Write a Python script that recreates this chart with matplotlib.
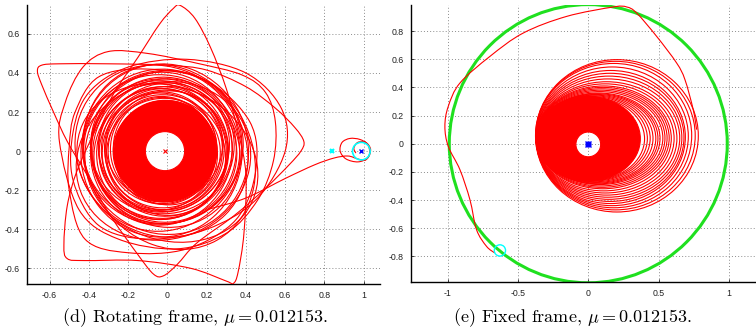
import numpy as np
import matplotlib
matplotlib.use("Agg")
import matplotlib.pyplot as plt
from matplotlib.path import Path
from matplotlib.patches import PathPatch, Ellipse, Circle
from matplotlib.transforms import Affine2D

# ---------------- data ----------------
MU = 0.012153
earth_rot = (-MU, 0.0)
moon_rot = (1 - MU, 0.0)
l1_rot = (0.837, 0.0)

# Rotating frame: dense inner spiral band (inner / outer radius)
rot_band = (0.10, 0.26)
# Rotating frame: individual spiral revolutions (ellipses)
rot_ring_rx = [0.25, 0.26, 0.265, 0.27, 0.28, 0.285, 0.29, 0.30, 0.305, 0.31, 0.315, 0.32, 0.33, 0.335,
               0.34, 0.345, 0.35, 0.36, 0.365, 0.37, 0.38, 0.385, 0.39, 0.40, 0.41, 0.42, 0.43, 0.44]
rot_ring_ry = [0.24, 0.245, 0.255, 0.26, 0.26, 0.275, 0.28, 0.28, 0.29, 0.30, 0.30, 0.31, 0.31, 0.32,
               0.33, 0.33, 0.34, 0.34, 0.35, 0.35, 0.36, 0.37, 0.37, 0.38, 0.39, 0.39, 0.41, 0.42]
rot_ring_cx = [-0.01, -0.02, -0.01, -0.03, -0.01, -0.03, -0.02, -0.01, -0.04, -0.02, -0.01, -0.03, -0.02, -0.01,
               -0.03, -0.02, -0.04, -0.03, -0.01, -0.02, -0.03, -0.02, -0.01, -0.03, -0.02, -0.02, -0.03, -0.01]
rot_ring_cy = [0.00, 0.01, -0.01, 0.01, 0.00, 0.02, -0.01, 0.02, 0.00, 0.01, -0.02, 0.01, 0.00, 0.02,
               -0.01, 0.01, 0.00, 0.02, -0.02, 0.01, 0.00, 0.02, -0.01, 0.01, 0.02, 0.00, -0.01, 0.01]
rot_ring_ang = [0, 30, 60, 90, 120, 150, 10, 40, 70, 100, 130, 160, 20, 50,
                80, 110, 140, 170, 15, 45, 75, 105, 135, 165, 25, 55, 85, 115]

# Rotating frame: wider, eccentric revolutions
rot_wide_cx = [-0.02, 0.00, -0.03, 0.01]
rot_wide_cy = [-0.05, -0.06, 0.00, -0.03]
rot_wide_w = [0.90, 0.95, 0.84, 0.98]
rot_wide_h = [0.80, 0.78, 0.92, 0.84]
rot_wide_ang = [20, -25, 45, -60]

# Rotating frame: outer star-shaped revolutions (waypoints)
rot_loop_a = [(0.065, 0.746), (0.14, 0.68), (0.22, 0.53), (0.30, 0.32), (0.36, 0.10), (0.40, -0.12),
              (0.39, -0.42), (0.36, -0.62), (0.336, -0.677), (0.30, -0.665), (0.12, -0.60),
              (-0.15, -0.56), (-0.42, -0.56), (-0.51, -0.55), (-0.527, -0.48), (-0.51, -0.28),
              (-0.46, -0.10), (-0.37, 0.10), (-0.27, 0.30), (-0.15, 0.48), (-0.04, 0.65), (0.03, 0.73)]
rot_loop_b = [(-0.662, 0.41), (-0.64, 0.44), (-0.55, 0.447), (-0.30, 0.447), (0.00, 0.44), (0.20, 0.415),
              (0.40, 0.33), (0.55, 0.22), (0.65, 0.12), (0.695, 0.05), (0.68, 0.00), (0.62, -0.07),
              (0.50, -0.19), (0.34, -0.33), (0.15, -0.47), (0.05, -0.58), (-0.02, -0.638),
              (-0.07, -0.63), (-0.15, -0.53), (-0.29, -0.33), (-0.41, -0.12), (-0.51, 0.05),
              (-0.58, 0.20), (-0.64, 0.34)]
rot_loop_c = [(-0.55, 0.05), (-0.52, 0.25), (-0.43, 0.43), (-0.30, 0.51), (-0.10, 0.50), (0.15, 0.45),
              (0.38, 0.39), (0.50, 0.30), (0.55, 0.15), (0.54, -0.05), (0.46, -0.25), (0.30, -0.42),
              (0.05, -0.50), (-0.25, -0.45), (-0.45, -0.30)]
rot_loop_d = [(-0.47, 0.20), (-0.35, 0.38), (-0.10, 0.42), (0.20, 0.36), (0.42, 0.15), (0.45, -0.10),
              (0.35, -0.35), (0.10, -0.50), (-0.20, -0.52), (-0.42, -0.45), (-0.50, -0.20), (-0.50, 0.02)]
rot_loop_e = [(-0.40, 0.30), (-0.20, 0.43), (0.10, 0.47), (0.40, 0.40), (0.58, 0.22), (0.60, 0.00),
              (0.45, -0.25), (0.20, -0.40), (-0.10, -0.45), (-0.35, -0.38), (-0.48, -0.15), (-0.48, 0.10)]
rot_transfer = [(0.20, -0.30), (0.40, -0.24), (0.60, -0.14), (0.75, -0.07), (0.85, -0.035), (0.92, -0.025),
                (0.97, -0.04), (1.01, -0.045), (1.03, -0.01), (1.02, 0.035), (0.98, 0.06), (0.93, 0.065),
                (0.89, 0.045), (0.88, 0.00), (0.91, -0.04), (0.97, -0.055), (1.02, -0.035), (1.035, 0.01),
                (1.01, 0.045), (0.97, 0.045), (0.95, 0.015), (0.96, -0.01)]

# Fixed frame
moon_orbit_r = 1 - MU
earth_fix = (0.0, 0.0)
moon_fix = (-0.628, -0.758)
fix_band_outer = (0.0, 0.035, 0.74, 0.60)    # centre x, centre y, width, height
fix_band_hole = (0.0, -0.005, 0.088)          # centre x, centre y, radius
fix_ring_left = [-0.375, -0.374, -0.373, -0.372, -0.372, -0.371, -0.371, -0.370, -0.370, -0.369, -0.369,
                 -0.368, -0.368, -0.368, -0.367, -0.367, -0.367, -0.366, -0.366, -0.366, -0.365, -0.365]
fix_ring_right = [0.782, 0.760, 0.735, 0.711, 0.690, 0.680, 0.665, 0.650, 0.630, 0.610, 0.590,
                  0.575, 0.560, 0.545, 0.530, 0.510, 0.495, 0.480, 0.460, 0.440, 0.420, 0.400]
fix_ring_top = [0.597, 0.585, 0.570, 0.545, 0.520, 0.500, 0.480, 0.460, 0.440, 0.425, 0.410,
                0.400, 0.390, 0.380, 0.370, 0.360, 0.355, 0.350, 0.345, 0.340, 0.335, 0.330]
fix_ring_bottom = [-0.485, -0.470, -0.455, -0.440, -0.425, -0.410, -0.395, -0.380, -0.365, -0.350, -0.335,
                   -0.320, -0.310, -0.300, -0.290, -0.285, -0.280, -0.275, -0.270, -0.265, -0.262, -0.260]
fix_transfer = [(0.77, 0.10), (0.746, 0.241), (0.687, 0.455), (0.628, 0.573), (0.486, 0.762), (0.344, 0.928),
                (0.273, 0.971), (0.178, 0.971), (-0.154, 0.904), (-0.462, 0.786), (-0.699, 0.620),
                (-0.912, 0.431), (-0.995, 0.265), (-1.019, 0.123), (-0.995, -0.019), (-0.912, -0.185),
                (-0.841, -0.398), (-0.794, -0.611), (-0.723, -0.729), (-0.664, -0.776)]

rot_xticks = [-0.6, -0.4, -0.2, 0, 0.2, 0.4, 0.6, 0.8, 1]
rot_yticks = [-0.6, -0.4, -0.2, 0, 0.2, 0.4, 0.6]
fix_xticks = [-1, -0.5, 0, 0.5, 1]
fix_yticks = [-0.8, -0.6, -0.4, -0.2, 0, 0.2, 0.4, 0.6, 0.8]

captions = [r"(d) Rotating frame, $\mu = 0.012153$.", r"(e) Fixed frame, $\mu = 0.012153$."]

# ---------------- helpers ----------------
RED = (1, 0, 0)
LW = 0.8


def smooth_path(pts, closed=False):
    P = np.asarray(pts, float)
    n = len(P)
    if closed:
        ext = np.vstack([P[-1], P, P[0], P[1]])
        segs = n
    else:
        ext = np.vstack([P[0], P, P[-1]])
        segs = n - 1
    verts = [P[0]]
    codes = [Path.MOVETO]
    for i in range(segs):
        p0, p1, p2, p3 = ext[i], ext[i + 1], ext[i + 2], ext[i + 3]
        verts += [p1 + (p2 - p0) / 6, p2 - (p3 - p1) / 6, p2]
        codes += [Path.CURVE4] * 3
    return Path(verts, codes)


def annulus(outer_c, outer_w, outer_h, inner_c, inner_r, **kw):
    arc = Path.arc(0, 360)
    ov = Affine2D().scale(outer_w / 2, outer_h / 2).translate(*outer_c).transform(arc.vertices)
    iv = Affine2D().scale(inner_r).translate(*inner_c).transform(arc.vertices)[::-1]
    return PathPatch(Path(np.vstack([ov, iv]), np.concatenate([arc.codes, arc.codes])), **kw)


def style_axes(ax, xlim, ylim, xt, yt):
    ax.set_xlim(*xlim)
    ax.set_ylim(*ylim)
    ax.set_xticks(xt)
    ax.set_yticks(yt)
    ax.set_xticklabels(["%g" % v for v in xt])
    ax.set_yticklabels(["%g" % v for v in yt])
    for s in ("top", "right"):
        ax.spines[s].set_visible(False)
    for s in ("left", "bottom"):
        ax.spines[s].set_linewidth(1.0)
        ax.spines[s].set_color("black")
    ax.tick_params(direction="in", length=2, width=0.6, labelsize=6.3, colors="#222222", pad=5)
    ax.grid(True, color="#8c8c8c", linestyle=(0, (1, 2.2)), linewidth=0.7)
    ax.set_axisbelow(True)
    for lab in ax.get_xticklabels() + ax.get_yticklabels():
        lab.set_family("Liberation Sans")


plt.rcParams["mathtext.fontset"] = "cm"

fig = plt.figure(figsize=(7.56, 3.36), dpi=100)

# ---------------- rotating frame ----------------
ax1 = fig.add_axes([27 / 756, 52 / 336, 353 / 756, 279 / 336])
style_axes(ax1, (-0.715, 1.083), (-0.68, 0.748), rot_xticks, rot_yticks)

ax1.add_patch(annulus(earth_rot, 2 * rot_band[1], 2 * rot_band[1], earth_rot, rot_band[0],
                      facecolor=RED, edgecolor=RED, linewidth=LW, zorder=3))
for rx, ry, cx, cy, an in zip(rot_ring_rx, rot_ring_ry, rot_ring_cx, rot_ring_cy, rot_ring_ang):
    ax1.add_patch(Ellipse((cx, cy), 2 * rx, 2 * ry, angle=an, fill=False, edgecolor=RED, linewidth=LW, zorder=3))
for cx, cy, w, h, an in zip(rot_wide_cx, rot_wide_cy, rot_wide_w, rot_wide_h, rot_wide_ang):
    ax1.add_patch(Ellipse((cx, cy), w, h, angle=an, fill=False, edgecolor=RED, linewidth=LW, zorder=3))
for loop in (rot_loop_a, rot_loop_b, rot_loop_c, rot_loop_d, rot_loop_e):
    ax1.add_patch(PathPatch(smooth_path(loop, closed=True), fill=False, edgecolor=RED, linewidth=LW, zorder=3))
ax1.add_patch(PathPatch(smooth_path(rot_transfer), fill=False, edgecolor=RED, linewidth=LW, zorder=3))

ax1.plot(*earth_rot, marker="x", color=RED, ms=2.5, mew=0.8, zorder=5)
ax1.plot(*l1_rot, marker="x", color="cyan", ms=3, mew=1.5, zorder=5)
ax1.add_patch(Circle(moon_rot, 0.045, fill=False, edgecolor="cyan", linewidth=1.2, zorder=4))
ax1.plot(*moon_rot, marker="x", color="blue", ms=3, mew=1.0, zorder=5)

# ---------------- fixed frame ----------------
ax2 = fig.add_axes([410.7 / 756, 53.6 / 336, 345.3 / 756, 277.4 / 336])
style_axes(ax2, (-1.262, 1.192), (-0.985, 0.985), fix_xticks, fix_yticks)

ax2.add_patch(Circle((0, 0), moon_orbit_r, fill=False, edgecolor="#1fe01f", linewidth=2.2, zorder=2))
bx, by, bw, bh = fix_band_outer
hx, hy, hr = fix_band_hole
ax2.add_patch(annulus((bx, by), bw, bh, (hx, hy), hr, facecolor=RED, edgecolor=RED, linewidth=LW, zorder=3))
for l, r, t, b in zip(fix_ring_left, fix_ring_right, fix_ring_top, fix_ring_bottom):
    ax2.add_patch(Ellipse(((l + r) / 2, (t + b) / 2), r - l, t - b, fill=False, edgecolor=RED,
                          linewidth=LW, zorder=3))
ax2.add_patch(PathPatch(smooth_path(fix_transfer), fill=False, edgecolor=RED, linewidth=LW, zorder=3))
ax2.add_patch(Circle(moon_fix, 0.04, fill=False, edgecolor="cyan", linewidth=1.0, zorder=4))
ax2.plot(*earth_fix, marker="o", color="blue", ms=3.5, zorder=5)
ax2.plot(*earth_fix, marker="x", color="blue", ms=4, mew=1, zorder=5)

# ---------------- captions ----------------
fig.text(195 / 756, 1 - 318 / 336, captions[0], ha="center", va="center", fontsize=13, family="cmr10")
fig.text(572 / 756, 1 - 318 / 336, captions[1], ha="center", va="center", fontsize=13, family="cmr10")

fig.savefig("out.png", dpi=100)
